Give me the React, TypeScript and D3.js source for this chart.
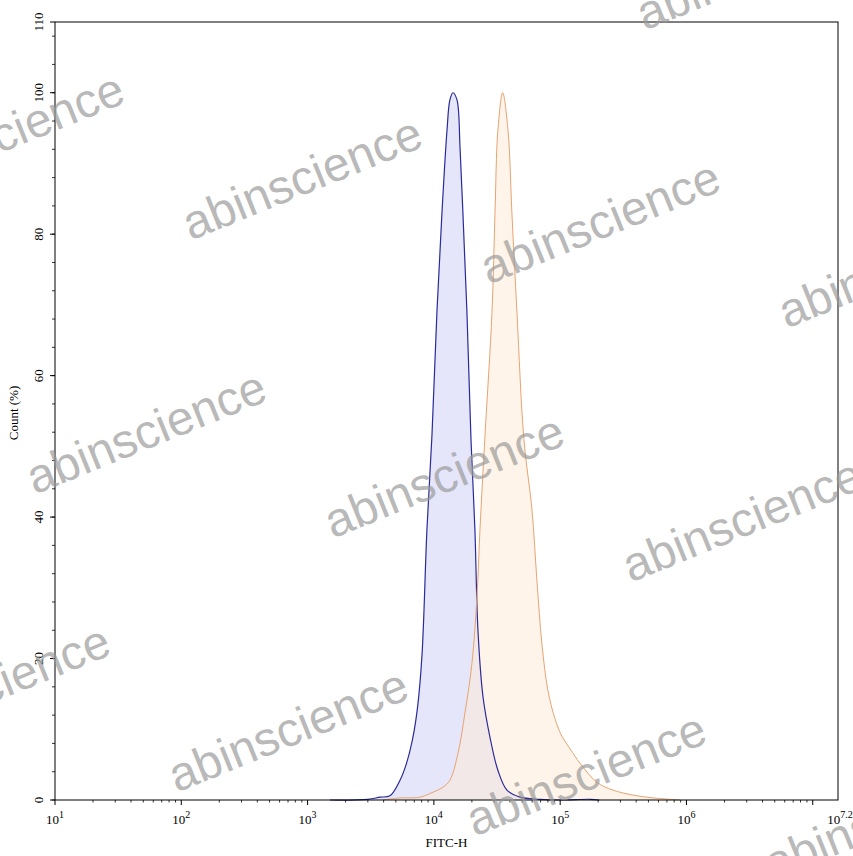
import React from "react";
import * as d3 from "d3";

// exponents (log10 of FITC-H) and Count (%) values
const blueLog = [3.177, 3.478, 3.573, 3.652, 3.732, 3.78, 3.83, 3.87, 3.906, 3.945, 3.985, 4.024, 4.064, 4.104, 4.127, 4.151, 4.183, 4.207, 4.23, 4.262, 4.294, 4.325, 4.349, 4.389, 4.444, 4.507, 4.579, 4.682, 4.84, 5.0, 5.24, 5.31];
const blueVal = [0, 0.1, 0.4, 0.6, 2.8, 5.0, 8.5, 13.0, 20.5, 38.2, 51.6, 68.9, 83.0, 94.7, 99, 100, 99, 92.3, 83.0, 68.9, 50.9, 38.2, 24.0, 14.6, 8.9, 4.2, 1.4, 0.4, 0.1, 0, 0.1, 0];

const orangeLog = [3.597, 3.732, 3.811, 3.89, 3.993, 4.072, 4.127, 4.191, 4.246, 4.302, 4.341, 4.365, 4.405, 4.46, 4.484, 4.507, 4.545, 4.587, 4.618, 4.658, 4.713, 4.777, 4.816, 4.856, 4.903, 4.959, 5.014, 5.08, 5.157, 5.291, 5.418, 5.576, 5.735, 5.949];
const orangeVal = [0, 0.3, 0.3, 0.4, 1.1, 1.8, 2.8, 6.6, 12.3, 19.4, 28.7, 38.2, 51.6, 68.9, 83.0, 94.7, 100, 94.7, 83.0, 68.9, 51.0, 41.0, 31.0, 22.0, 15.5, 11.5, 9.0, 7.2, 5.2, 2.5, 1.4, 0.7, 0.3, 0];

const xMajorExp = [1, 2, 3, 4, 5, 6];
const xEndLabel = "7.2";
const yTicks = [0, 20, 40, 60, 80, 100, 110];
const yMinor = d3.range(0, 110, 4);
const xLabel = "FITC-H";
const yLabel = "Count (%)";
const watermark = "abinscience";

const W = 853, H = 856;
const L = 55, R = 838, T = 22, B = 800;

export default function App() {
  const x = d3.scaleLog().domain([10, Math.pow(10, 7.2)]).range([L, R]);
  const y = d3.scaleLinear().domain([0, 110]).range([B, T]);

  const mk = (logs: number[], vals: number[]) => logs.map((e, i) => [Math.pow(10, e), vals[i]] as [number, number]);
  const blue = mk(blueLog, blueVal);
  const orange = mk(orangeLog, orangeVal);

  const curve = d3.curveCatmullRom.alpha(0.5);
  const line = d3.line<[number, number]>().x(d => x(d[0])).y(d => Math.min(B, y(Math.max(0, d[1])))).curve(curve);
  const area = d3.area<[number, number]>().x(d => x(d[0])).y0(B).y1(d => Math.min(B, y(Math.max(0, d[1])))).curve(curve);

  const minorX: number[] = [];
  for (let e = 1; e < 7.2; e++) {
    for (let k = 2; k <= 9; k++) {
      const v = k * Math.pow(10, e);
      if (v < Math.pow(10, 7.2)) minorX.push(v);
    }
  }

  // watermark lattice
  const base = [302, 178];
  const a = [298, 44];
  const b = [-156, 254];
  const marks: [number, number][] = [];
  for (let i = -2; i <= 4; i++) {
    for (let j = -1; j <= 3; j++) {
      const cx = base[0] + i * a[0] + j * b[0];
      const cy = base[1] + i * a[1] + j * b[1];
      if (cx > -130 && cx < W + 130 && cy > -60 && cy < H + 60) marks.push([cx, cy]);
    }
  }

  return (
    <svg width={W} height={H} style={{ position: "absolute", left: 0, top: 0, background: "#fff" }}>
      <rect x={0} y={0} width={W} height={H} fill="#fff" />
      <path d={area(blue) || ""} fill="#d8d8f8" fillOpacity={0.65} />
      <path d={area(orange) || ""} fill="#fde9d4" fillOpacity={0.5} />
      <path d={line(blue) || ""} fill="none" stroke="#2a2a9a" strokeWidth={1.2} />
      <path d={line(orange) || ""} fill="none" stroke="#e6a472" strokeWidth={1} />

      <rect x={L} y={T} width={R - L} height={B - T} fill="none" stroke="#000" strokeWidth={1} />

      {minorX.map((v, i) => (
        <line key={"mx" + i} x1={x(v)} x2={x(v)} y1={B} y2={B + 2.5} stroke="#000" strokeWidth={0.8} />
      ))}
      {xMajorExp.map(e => (
        <line key={"Mx" + e} x1={x(Math.pow(10, e))} x2={x(Math.pow(10, e))} y1={B} y2={B + 5} stroke="#000" />
      ))}
      <line x1={x(1e7)} x2={x(1e7)} y1={B} y2={B + 5} stroke="#000" />
      {xMajorExp.map(e => (
        <text key={"lx" + e} x={x(Math.pow(10, e))} y={824} fontFamily="'Liberation Serif', serif" fontSize={13} textAnchor="middle" fill="#000">
          10<tspan dy={-6} fontSize={10}>{e}</tspan>
        </text>
      ))}
      <text x={R + 2} y={824} fontFamily="'Liberation Serif', serif" fontSize={13} textAnchor="middle" fill="#000">
        10<tspan dy={-6} fontSize={10}>{xEndLabel}</tspan>
      </text>
      <text x={(L + R) / 2} y={847} fontFamily="'Liberation Serif', serif" fontSize={13} textAnchor="middle" fill="#000">{xLabel}</text>

      {yMinor.map((v, i) => (
        <line key={"my" + i} x1={L - 3} x2={L} y1={y(v)} y2={y(v)} stroke="#000" strokeWidth={0.8} />
      ))}
      {yTicks.map(v => (
        <line key={"My" + v} x1={L - 5} x2={L} y1={y(v)} y2={y(v)} stroke="#000" />
      ))}
      {yTicks.map(v => (
        <text key={"ly" + v} transform={`translate(43,${y(v)}) rotate(-90)`} fontFamily="'Liberation Serif', serif" fontSize={13} textAnchor="middle" fill="#000">{v}</text>
      ))}
      <text transform={`translate(18,413) rotate(-90)`} fontFamily="'Liberation Serif', serif" fontSize={13} textAnchor="middle" fill="#000">{yLabel}</text>

      {marks.map(([cx, cy], i) => (
        <text key={"w" + i} transform={`translate(${cx},${cy}) rotate(-22)`} fontFamily="'Liberation Sans', Arial, sans-serif" fontSize={48} textAnchor="middle" dominantBaseline="central" fill="#9a9a9a" fillOpacity={0.7}>{watermark}</text>
      ))}
    </svg>
  );
}
